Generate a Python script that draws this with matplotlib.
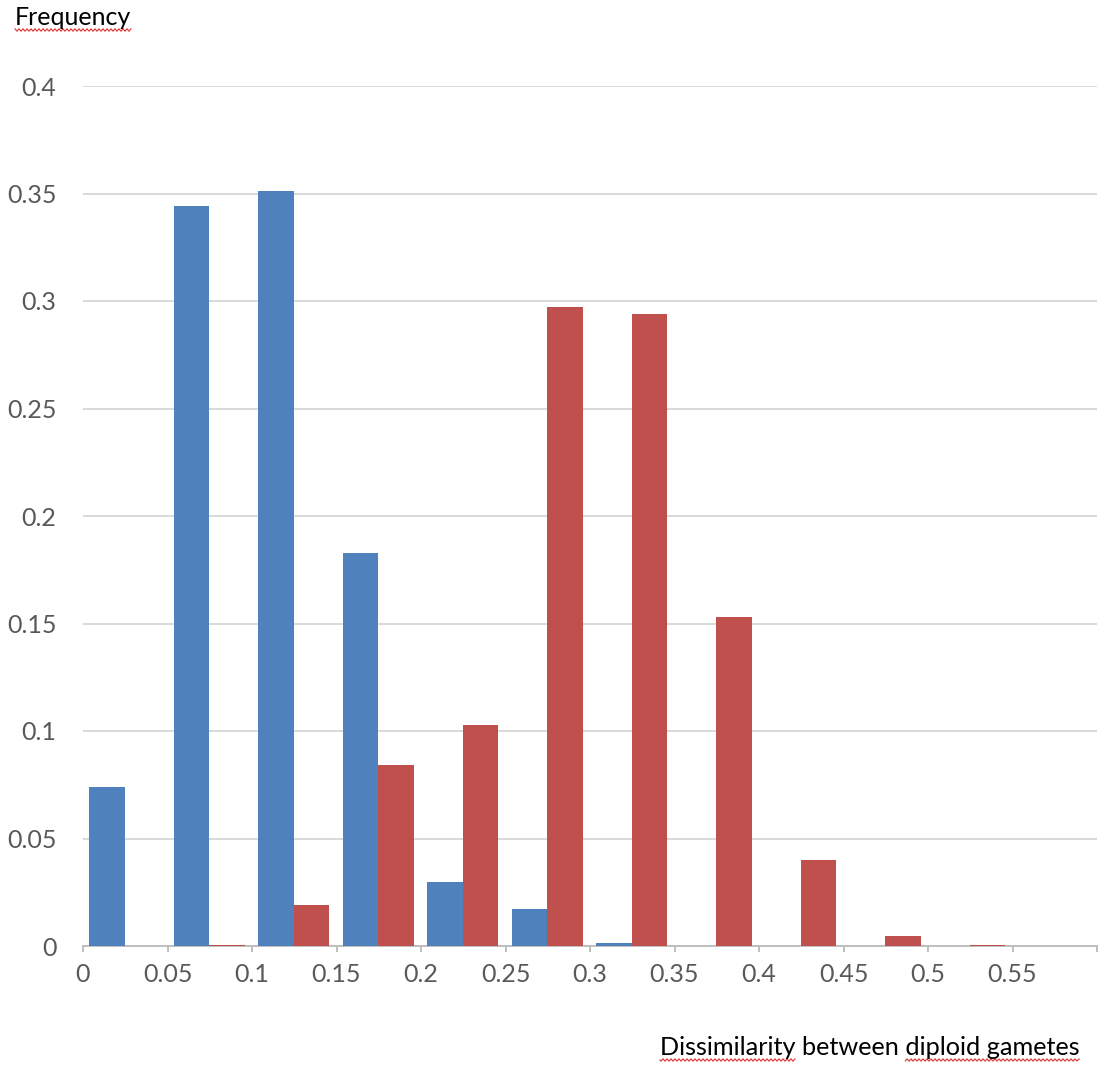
import numpy as np
import matplotlib
matplotlib.use("Agg")
import matplotlib.pyplot as plt
from matplotlib.lines import Line2D

# bin labels (left edges) and frequencies
bins = ["0", "0.05", "0.1", "0.15", "0.2", "0.25", "0.3", "0.35", "0.4", "0.45", "0.5", "0.55"]
blue_freq = [0.074, 0.344, 0.351, 0.183, 0.030, 0.017, 0.0014, 0, 0, 0, 0, 0]
red_freq = [0, 0.0005, 0.019, 0.084, 0.103, 0.297, 0.294, 0.153, 0.040, 0.0047, 0.0003, 0]
yticks = [0, 0.05, 0.1, 0.15, 0.2, 0.25, 0.3, 0.35, 0.4]
ytick_labels = ["0", "0.05", "0.1", "0.15", "0.2", "0.25", "0.3", "0.35", "0.4"]

plt.rcParams["font.family"] = ["Lato", "DejaVu Sans"]

W, H = 1108, 1070
fig = plt.figure(figsize=(W / 100, H / 100), dpi=100)
ax = fig.add_axes([83 / W, 1 - 946 / H, (1097 - 83) / W, (946 - 86) / H])

x = np.arange(len(bins))
ax.bar(x + 0.285, blue_freq, width=0.42, color="#4F81BD", zorder=3)
ax.bar(x + 0.705, red_freq, width=0.42, color="#C0504D", zorder=3)

ax.set_xlim(0, len(bins))
ax.set_ylim(0, 0.4)
ax.set_xticks(np.arange(len(bins) + 1))
ax.set_xticklabels(bins + [""])
ax.set_yticks(yticks)
ax.set_yticklabels(ytick_labels)

ax.yaxis.grid(True, color="#d9d9d9", linewidth=1.4)
ax.set_axisbelow(True)
for s in ["left", "right", "top"]:
    ax.spines[s].set_visible(False)
ax.spines["bottom"].set_color("#bfbfbf")
ax.spines["bottom"].set_linewidth(1.4)
ax.tick_params(axis="y", length=0, pad=19, labelsize=18, labelcolor="#595959")
ax.tick_params(axis="x", length=4, width=1.4, color="#bfbfbf", pad=8,
               labelsize=18, labelcolor="#595959")

t1 = fig.text(15 / W, 1 - 25 / H, "Frequency", fontsize=18, color="black", ha="left",
              va="baseline")
t2 = fig.text(660 / W, 1 - 1055 / H, "Dissimilarity between diploid gametes", fontsize=18.2,
              color="black", ha="left", va="baseline")

# spell-check style wavy underlines
fig.canvas.draw()
r = fig.canvas.get_renderer()


def squiggle(x0, x1, y):
    xs = np.arange(x0, x1, 1.0)
    ys = y + 1.2 * np.sin(xs * np.pi / 2.0)
    fig.add_artist(Line2D(xs / W, 1 - ys / H, color="#e03030", linewidth=0.8,
                          transform=fig.transFigure))


b1 = t1.get_window_extent(r)
squiggle(b1.x0, b1.x1, 30)

b2 = t2.get_window_extent(r)
tmp = fig.text(0, 0, "Dissimilarity", fontsize=18.2)
w_dis = tmp.get_window_extent(r).width
tmp.set_text("Dissimilarity between ")
w_bet = tmp.get_window_extent(r).width
tmp.remove()
squiggle(b2.x0, b2.x0 + w_dis, 1060)
squiggle(b2.x0 + w_bet, b2.x1, 1060)

fig.savefig("out.png", dpi=100)
